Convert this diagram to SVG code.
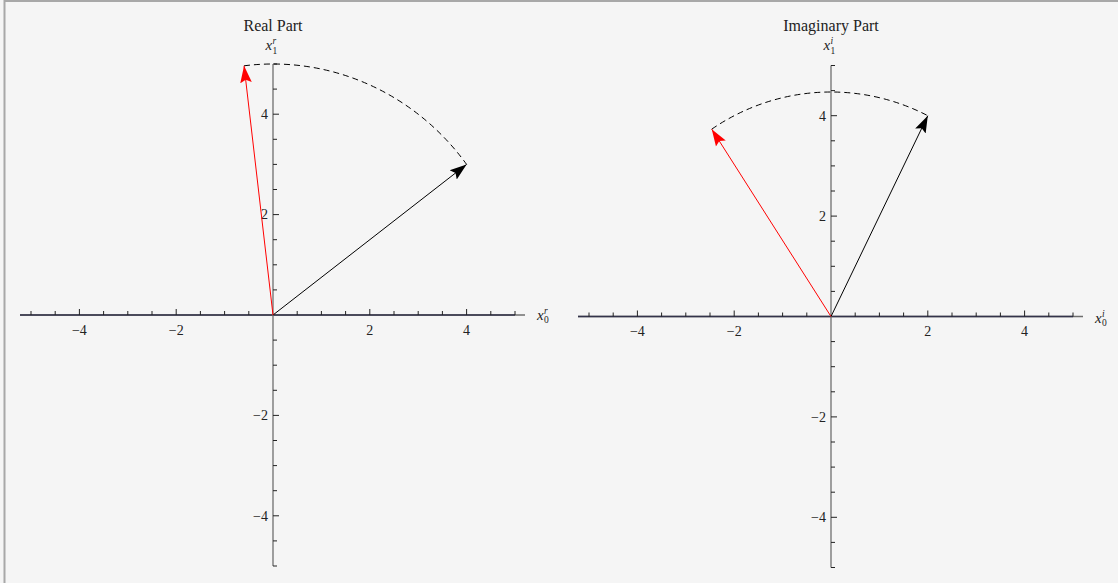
<svg xmlns="http://www.w3.org/2000/svg" width="1118" height="583" viewBox="0 0 1118 583">
<style>
text{font-family:"Liberation Serif","Times New Roman",serif;fill:#222}
.title{font-size:16px;text-anchor:middle}
.tk{font-size:14px}
.tx{text-anchor:middle}
.ty{text-anchor:end}
.lab{font-size:15px;font-style:italic}
.sub{font-size:9.5px;font-style:normal}
.sup{font-size:9.5px;font-style:italic}
.axis{stroke:#6e6e6e;stroke-width:1.3;fill:none}
.axisx{stroke:#33334a;stroke-width:1.3;fill:none}
.tick{stroke:#222;stroke-width:1;fill:none}
.vb{stroke:#000;stroke-width:1;fill:none}
.vr{stroke:#ff0000;stroke-width:1;fill:none}
.arc{stroke:#000;stroke-width:1;fill:none;stroke-dasharray:6,4}
</style>
<defs>
<marker id="ahb" viewBox="0 0 18 14" refX="17" refY="7" markerWidth="18" markerHeight="14" markerUnits="userSpaceOnUse" orient="auto">
<path d="M0,1.2 L17,7 L0,12.8 L3,7 Z" fill="#000"/>
</marker>
<marker id="ahr" viewBox="0 0 18 14" refX="17" refY="7" markerWidth="18" markerHeight="14" markerUnits="userSpaceOnUse" orient="auto">
<path d="M0,1.2 L17,7 L0,12.8 L3,7 Z" fill="#ff0000"/>
</marker>
</defs>
<rect x="0" y="0" width="1118" height="583" fill="#f5f5f5"/>
<path d="M4.5,583 V1 H1118" stroke="#a8a8a8" stroke-width="2" fill="none"/>

<g id="real-part" transform="translate(273,315)">
<path class="axis" d="M-253,0 H252"/>
<path class="axisx" d="M-253,0 H242"/>
<path class="axis" d="M0,-251 V251"/>
<path class="tick" d="M-242,0v-4M-217.8,0v-4M-169.4,0v-4M-145.2,0v-4M-121,0v-4M-72.6,0v-4M-48.4,0v-4M-24.2,0v-4M24.2,0v-4M48.4,0v-4M72.6,0v-4M121,0v-4M145.2,0v-4M169.4,0v-4M217.8,0v-4M242,0v-4M-193.6,0v-6M-96.8,0v-6M96.8,0v-6M193.6,0v-6"/>
<path class="tick" d="M0,-251h4M0,-225.9h4M0,-175.7h4M0,-150.6h4M0,-125.5h4M0,-75.3h4M0,-50.2h4M0,-25.1h4M0,25.1h4M0,50.2h4M0,75.3h4M0,125.5h4M0,150.6h4M0,175.7h4M0,225.9h4M0,251h4M0,-200.8h6M0,-100.4h6M0,100.4h6M0,200.8h6"/>
<text class="tk tx" x="-193.6" y="19.5">−4</text>
<text class="tk tx" x="-96.8" y="19.5">−2</text>
<text class="tk tx" x="96.8" y="19.5">2</text>
<text class="tk tx" x="193.6" y="19.5">4</text>
<text class="tk ty" x="-5" y="-196">4</text>
<text class="tk ty" x="-5" y="-95.6">2</text>
<text class="tk ty" x="-5" y="105.2">−2</text>
<text class="tk ty" x="-5" y="205.6">−4</text>
<text class="title" x="0" y="-284.5">Real Part</text>
<text id="real-y-label" class="lab" x="-7.5" y="-265">x<tspan class="sub" x="-0.5" y="-261.5">1</tspan><tspan class="sup" x="-0.5" y="-271">r</tspan></text>
<text id="real-x-label" class="lab" x="264" y="4.5">x<tspan class="sub" x="271" y="8">0</tspan><tspan class="sup" x="271" y="-1">r</tspan></text>
</g>

<g id="imag-part" transform="translate(831,316.5)">
<path class="axis" d="M-253,0 H252"/>
<path class="axisx" d="M-253,0 H242"/>
<path class="axis" d="M0,-251 V251"/>
<path class="tick" d="M-242,0v-4M-217.8,0v-4M-169.4,0v-4M-145.2,0v-4M-121,0v-4M-72.6,0v-4M-48.4,0v-4M-24.2,0v-4M24.2,0v-4M48.4,0v-4M72.6,0v-4M121,0v-4M145.2,0v-4M169.4,0v-4M217.8,0v-4M242,0v-4M-193.6,0v-6M-96.8,0v-6M96.8,0v-6M193.6,0v-6"/>
<path class="tick" d="M0,-251h4M0,-225.9h4M0,-175.7h4M0,-150.6h4M0,-125.5h4M0,-75.3h4M0,-50.2h4M0,-25.1h4M0,25.1h4M0,50.2h4M0,75.3h4M0,125.5h4M0,150.6h4M0,175.7h4M0,225.9h4M0,251h4M0,-200.8h6M0,-100.4h6M0,100.4h6M0,200.8h6"/>
<text class="tk tx" x="-193.6" y="19.5">−4</text>
<text class="tk tx" x="-96.8" y="19.5">−2</text>
<text class="tk tx" x="96.8" y="19.5">2</text>
<text class="tk tx" x="193.6" y="19.5">4</text>
<text class="tk ty" x="-5" y="-196">4</text>
<text class="tk ty" x="-5" y="-95.6">2</text>
<text class="tk ty" x="-5" y="105.2">−2</text>
<text class="tk ty" x="-5" y="205.6">−4</text>
<text class="title" x="0" y="-286">Imaginary Part</text>
<text id="imag-y-label" class="lab" x="-7.5" y="-266.5">x<tspan class="sub" x="-0.5" y="-263">1</tspan><tspan class="sup" x="-0.5" y="-272.5">i</tspan></text>
<text id="imag-x-label" class="lab" x="264" y="6">x<tspan class="sub" x="271" y="9.5">0</tspan><tspan class="sup" x="271" y="0">i</tspan></text>
</g>

<g id="connectors">
<g transform="translate(273,315)">
<path id="real-arc" class="arc" d="M-28.94,-249.2 A242,251 0 0 1 193.6,-150.6"/>
<path id="real-black" class="vb" d="M0,0 L193.6,-150.6" marker-end="url(#ahb)"/>
<path id="real-red" class="vr" d="M0,0 L-28.94,-249.2" marker-end="url(#ahr)"/>
</g>
<g transform="translate(831,316.5)">
<path id="imag-arc" class="arc" d="M-119.26,-187.35 A216.45,224.5 0 0 1 96.8,-200.8"/>
<path id="imag-black" class="vb" d="M0,0 L96.8,-200.8" marker-end="url(#ahb)"/>
<path id="imag-red" class="vr" d="M0,0 L-119.26,-187.35" marker-end="url(#ahr)"/>
</g>
</g>
</svg>
